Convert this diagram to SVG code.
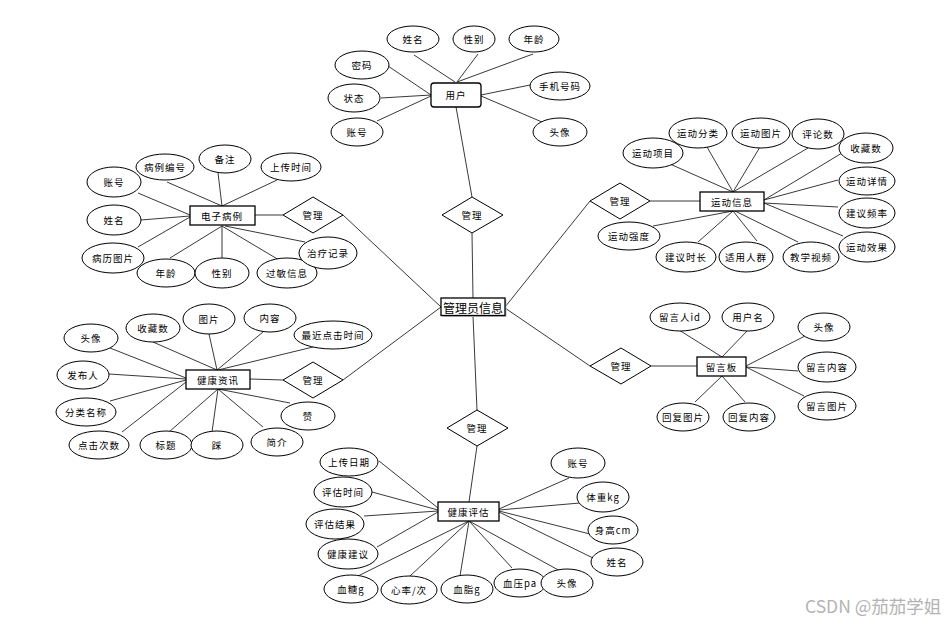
<svg xmlns="http://www.w3.org/2000/svg" width="945" height="624" viewBox="0 0 945 624">
<style>
.e{fill:#fff;stroke:#000;stroke-width:1}
.r{fill:#fff;stroke:#000;stroke-width:1.3}
.d{fill:#fff;stroke:#000;stroke-width:1}
.t{font-family:"Noto Sans CJK SC","Liberation Sans",sans-serif;font-size:9.5px;fill:#000;text-anchor:middle;dominant-baseline:central;letter-spacing:1px}
.big{font-size:12px;letter-spacing:0}
#c line{stroke:#222;stroke-width:0.9}
</style>
<rect width="945" height="624" fill="#fff"/>
<g id="c">
<line x1="414" y1="55" x2="455" y2="82"/><line x1="478" y1="54" x2="457" y2="82"/><line x1="533" y1="54" x2="457" y2="82"/>
<line x1="388" y1="66" x2="431" y2="95"/><line x1="381" y1="98" x2="431" y2="95"/><line x1="377" y1="121" x2="431" y2="96"/>
<line x1="530" y1="85" x2="481" y2="95"/><line x1="542" y1="122" x2="481" y2="96"/>
<line x1="456" y1="107" x2="472" y2="197"/>
<line x1="472" y1="233" x2="473" y2="298"/>
<line x1="343" y1="215" x2="441" y2="307"/><line x1="343" y1="380" x2="441" y2="307"/>
<line x1="505" y1="307" x2="590" y2="201"/><line x1="505" y1="308" x2="590" y2="366"/>
<line x1="473" y1="316" x2="477" y2="410"/><line x1="477" y1="446" x2="469" y2="502"/>
<line x1="255" y1="215" x2="283" y2="215"/><line x1="250" y1="379" x2="283" y2="380"/>
<line x1="650" y1="201" x2="700" y2="201"/><line x1="651" y1="366" x2="697" y2="366"/>
<line x1="138" y1="193" x2="190" y2="215"/><line x1="167" y1="182" x2="222" y2="206"/><line x1="218" y1="173" x2="222" y2="206"/><line x1="277" y1="180" x2="222" y2="206"/>
<line x1="141" y1="220" x2="190" y2="216"/><line x1="138" y1="247" x2="190" y2="217"/><line x1="170" y1="258" x2="222" y2="226"/>
<line x1="222" y1="226" x2="222" y2="259"/><line x1="222" y1="226" x2="279" y2="260"/><line x1="225" y1="226" x2="305" y2="242"/>
<line x1="110" y1="348" x2="186" y2="378"/><line x1="109" y1="374" x2="186" y2="379"/><line x1="110" y1="401" x2="186" y2="380"/><line x1="122" y1="432" x2="186" y2="382"/>
<line x1="153" y1="342" x2="217" y2="370"/><line x1="209" y1="334" x2="217" y2="370"/><line x1="263" y1="332" x2="217" y2="370"/><line x1="313" y1="347" x2="218" y2="370"/>
<line x1="290" y1="403" x2="218" y2="389"/><line x1="169" y1="432" x2="218" y2="389"/><line x1="212" y1="432" x2="218" y2="389"/><line x1="263" y1="427" x2="218" y2="389"/>
<line x1="670" y1="164" x2="733" y2="192"/><line x1="707" y1="147" x2="733" y2="192"/><line x1="760" y1="147" x2="733" y2="192"/><line x1="808" y1="148" x2="733" y2="192"/>
<line x1="842" y1="153" x2="764" y2="200"/><line x1="838" y1="180" x2="764" y2="200"/><line x1="838" y1="207" x2="764" y2="203"/><line x1="843" y1="236" x2="764" y2="203"/>
<line x1="653" y1="226" x2="733" y2="211"/><line x1="698" y1="242" x2="733" y2="211"/><line x1="757" y1="241" x2="733" y2="211"/><line x1="735" y1="211" x2="798" y2="242"/>
<line x1="679" y1="330" x2="722" y2="357"/><line x1="748" y1="330" x2="722" y2="357"/><line x1="805" y1="336" x2="746" y2="366"/><line x1="798" y1="371" x2="746" y2="367"/>
<line x1="804" y1="396" x2="746" y2="367"/><line x1="695" y1="402" x2="722" y2="376"/><line x1="745" y1="402" x2="722" y2="376"/>
<line x1="379" y1="461" x2="438" y2="508"/><line x1="372" y1="492" x2="438" y2="510"/><line x1="364" y1="516" x2="438" y2="511"/><line x1="377" y1="547" x2="438" y2="512"/>
<line x1="358" y1="576" x2="469" y2="521"/><line x1="410" y1="576" x2="469" y2="521"/><line x1="460" y1="576" x2="469" y2="521"/><line x1="512" y1="568" x2="469" y2="521"/><line x1="562" y1="572" x2="469" y2="521"/>
<line x1="569" y1="478" x2="499" y2="509"/><line x1="580" y1="503" x2="499" y2="510"/><line x1="590" y1="534" x2="499" y2="511"/><line x1="593" y1="558" x2="499" y2="512"/>
</g>

<g id="admin"><rect x="442.5" y="299.5" width="64" height="17.5" fill="#bbb"/><rect class="r" x="441" y="298" width="64" height="17.5"/><text class="t big" x="473" y="307">管理员信息</text></g>

<g id="user"><rect class="r" x="431" y="83" width="50" height="24" rx="3"/><text class="t" x="456" y="95">用户</text></g>
<g id="u-name"><ellipse class="e" cx="413" cy="39" rx="26" ry="13"/><text class="t" x="413" y="39">姓名</text></g>
<g id="u-sex"><ellipse class="e" cx="474" cy="39" rx="21" ry="13"/><text class="t" x="474" y="39">性别</text></g>
<g id="u-age"><ellipse class="e" cx="534" cy="39" rx="25" ry="13"/><text class="t" x="534" y="39">年龄</text></g>
<g id="u-pwd"><ellipse class="e" cx="362" cy="65" rx="27" ry="14"/><text class="t" x="362" y="65">密码</text></g>
<g id="u-state"><ellipse class="e" cx="354" cy="98" rx="26" ry="14"/><text class="t" x="354" y="98">状态</text></g>
<g id="u-acc"><ellipse class="e" cx="357" cy="132" rx="26" ry="14"/><text class="t" x="357" y="132">账号</text></g>
<g id="u-phone"><ellipse class="e" cx="560" cy="86" rx="30" ry="14"/><text class="t" x="560" y="86">手机号码</text></g>
<g id="u-avatar"><ellipse class="e" cx="560" cy="132" rx="27" ry="14"/><text class="t" x="560" y="132">头像</text></g>

<g id="dm-top"><polygon class="d" points="472,197 503,215 472,233 442,215"/><text class="t" x="472" y="215">管理</text></g>
<g id="dm-l1"><polygon class="d" points="313,197 343,215 313,233 283,215"/><text class="t" x="313" y="215">管理</text></g>
<g id="dm-l2"><polygon class="d" points="313,362 343,380 313,398 283,380"/><text class="t" x="313" y="380">管理</text></g>
<g id="dm-r1"><polygon class="d" points="620,183 650,201 620,219 590,201"/><text class="t" x="620" y="201">管理</text></g>
<g id="dm-r2"><polygon class="d" points="621,348 651,366 621,384 590,366"/><text class="t" x="621" y="366">管理</text></g>
<g id="dm-bot"><polygon class="d" points="477,410 508,428 477,446 447,428"/><text class="t" x="477" y="428">管理</text></g>

<g id="emr"><rect class="r" x="190" y="206" width="65" height="19"/><text class="t" x="222" y="215.5">电子病例</text></g>
<g id="emr-acc"><ellipse class="e" cx="114" cy="182" rx="27" ry="15"/><text class="t" x="114" y="182">账号</text></g>
<g id="emr-no"><ellipse class="e" cx="165" cy="167" rx="29" ry="13"/><text class="t" x="165" y="167">病例编号</text></g>
<g id="emr-note"><ellipse class="e" cx="225" cy="159" rx="26" ry="14"/><text class="t" x="225" y="159">备注</text></g>
<g id="emr-time"><ellipse class="e" cx="291" cy="167" rx="30" ry="14"/><text class="t" x="291" y="167">上传时间</text></g>
<g id="emr-name"><ellipse class="e" cx="114" cy="220" rx="27" ry="15"/><text class="t" x="114" y="220">姓名</text></g>
<g id="emr-pic"><ellipse class="e" cx="113" cy="258" rx="31" ry="15"/><text class="t" x="113" y="258">病历图片</text></g>
<g id="emr-age"><ellipse class="e" cx="166" cy="273" rx="29" ry="14"/><text class="t" x="166" y="273">年龄</text></g>
<g id="emr-sex"><ellipse class="e" cx="222" cy="273" rx="27" ry="15"/><text class="t" x="222" y="273">性别</text></g>
<g id="emr-allergy"><ellipse class="e" cx="287" cy="273" rx="30" ry="15"/><text class="t" x="287" y="273">过敏信息</text></g>
<g id="emr-treat"><ellipse class="e" cx="328" cy="253" rx="29" ry="16"/><text class="t" x="328" y="253">治疗记录</text></g>

<g id="news"><rect class="r" x="186" y="370" width="64" height="19"/><text class="t" x="218" y="379.5">健康资讯</text></g>
<g id="n-avatar"><ellipse class="e" cx="91" cy="338" rx="27" ry="14"/><text class="t" x="91" y="338">头像</text></g>
<g id="n-pub"><ellipse class="e" cx="83" cy="375" rx="26" ry="14"/><text class="t" x="83" y="375">发布人</text></g>
<g id="n-cat"><ellipse class="e" cx="86" cy="412" rx="30" ry="14"/><text class="t" x="86" y="412">分类名称</text></g>
<g id="n-clicks"><ellipse class="e" cx="99" cy="445" rx="30" ry="14"/><text class="t" x="99" y="445">点击次数</text></g>
<g id="n-fav"><ellipse class="e" cx="153" cy="328" rx="27" ry="14"/><text class="t" x="153" y="328">收藏数</text></g>
<g id="n-pic"><ellipse class="e" cx="209" cy="319" rx="26" ry="15"/><text class="t" x="209" y="319">图片</text></g>
<g id="n-content"><ellipse class="e" cx="270" cy="318" rx="26" ry="14"/><text class="t" x="270" y="318">内容</text></g>
<g id="n-recent"><ellipse class="e" cx="333" cy="335" rx="39" ry="14"/><text class="t" x="333" y="335">最近点击时间</text></g>
<g id="n-like"><ellipse class="e" cx="308" cy="416" rx="27" ry="14"/><text class="t" x="308" y="416">赞</text></g>
<g id="n-title"><ellipse class="e" cx="166" cy="445" rx="26" ry="14"/><text class="t" x="166" y="445">标题</text></g>
<g id="n-dislike"><ellipse class="e" cx="217" cy="445" rx="26" ry="14"/><text class="t" x="217" y="445">踩</text></g>
<g id="n-intro"><ellipse class="e" cx="277" cy="442" rx="26" ry="14"/><text class="t" x="277" y="442">简介</text></g>

<g id="sport"><rect class="r" x="700" y="192" width="64" height="19"/><text class="t" x="732" y="201.5">运动信息</text></g>
<g id="s-item"><ellipse class="e" cx="653" cy="153" rx="30" ry="15"/><text class="t" x="653" y="153">运动项目</text></g>
<g id="s-cat"><ellipse class="e" cx="698" cy="133" rx="29" ry="15"/><text class="t" x="698" y="133">运动分类</text></g>
<g id="s-pic"><ellipse class="e" cx="761" cy="133" rx="29" ry="15"/><text class="t" x="761" y="133">运动图片</text></g>
<g id="s-cmt"><ellipse class="e" cx="818" cy="134" rx="26" ry="15"/><text class="t" x="818" y="134">评论数</text></g>
<g id="s-fav"><ellipse class="e" cx="866" cy="148" rx="27" ry="15"/><text class="t" x="866" y="148">收藏数</text></g>
<g id="s-detail"><ellipse class="e" cx="867" cy="181" rx="28" ry="14"/><text class="t" x="867" y="181">运动详情</text></g>
<g id="s-freq"><ellipse class="e" cx="867" cy="213" rx="28" ry="15"/><text class="t" x="867" y="213">建议频率</text></g>
<g id="s-effect"><ellipse class="e" cx="867" cy="247" rx="28" ry="15"/><text class="t" x="867" y="247">运动效果</text></g>
<g id="s-int"><ellipse class="e" cx="629" cy="236" rx="31" ry="14"/><text class="t" x="629" y="236">运动强度</text></g>
<g id="s-dur"><ellipse class="e" cx="686" cy="257" rx="30" ry="15"/><text class="t" x="686" y="257">建议时长</text></g>
<g id="s-crowd"><ellipse class="e" cx="746" cy="257" rx="27" ry="15"/><text class="t" x="746" y="257">适用人群</text></g>
<g id="s-video"><ellipse class="e" cx="811" cy="257" rx="28" ry="15"/><text class="t" x="811" y="257">教学视频</text></g>

<g id="board"><rect class="r" x="697" y="357" width="49" height="19"/><text class="t" x="721.5" y="366.5">留言板</text></g>
<g id="b-uid"><ellipse class="e" cx="680" cy="317" rx="30" ry="14"/><text class="t" x="680" y="317">留言人id</text></g>
<g id="b-uname"><ellipse class="e" cx="748" cy="317" rx="26" ry="14"/><text class="t" x="748" y="317">用户名</text></g>
<g id="b-avatar"><ellipse class="e" cx="824" cy="327" rx="26" ry="14"/><text class="t" x="824" y="327">头像</text></g>
<g id="b-content"><ellipse class="e" cx="827" cy="367" rx="29" ry="15"/><text class="t" x="827" y="367">留言内容</text></g>
<g id="b-pic"><ellipse class="e" cx="827" cy="406" rx="29" ry="14"/><text class="t" x="827" y="406">留言图片</text></g>
<g id="b-rpic"><ellipse class="e" cx="683" cy="417" rx="26" ry="14"/><text class="t" x="683" y="417">回复图片</text></g>
<g id="b-rcontent"><ellipse class="e" cx="749" cy="417" rx="26" ry="14"/><text class="t" x="749" y="417">回复内容</text></g>

<g id="assess"><rect class="r" x="438" y="502" width="61" height="19"/><text class="t" x="468.5" y="511.5">健康评估</text></g>
<g id="a-date"><ellipse class="e" cx="349" cy="462" rx="29" ry="14"/><text class="t" x="349" y="462">上传日期</text></g>
<g id="a-time"><ellipse class="e" cx="343" cy="492" rx="29" ry="15"/><text class="t" x="343" y="492">评估时间</text></g>
<g id="a-result"><ellipse class="e" cx="335" cy="524" rx="29" ry="15"/><text class="t" x="335" y="524">评估结果</text></g>
<g id="a-advice"><ellipse class="e" cx="348" cy="554" rx="30" ry="15"/><text class="t" x="348" y="554">健康建议</text></g>
<g id="a-sugar"><ellipse class="e" cx="351" cy="589" rx="27" ry="14"/><text class="t" x="351" y="589">血糖g</text></g>
<g id="a-hr"><ellipse class="e" cx="409" cy="590" rx="28" ry="14"/><text class="t" x="409" y="590">心率/次</text></g>
<g id="a-lipid"><ellipse class="e" cx="467" cy="589" rx="26" ry="14"/><text class="t" x="467" y="589">血脂g</text></g>
<g id="a-bp"><ellipse class="e" cx="520" cy="583" rx="26" ry="14"/><text class="t" x="520" y="583">血压pa</text></g>
<g id="a-avatar"><ellipse class="e" cx="567" cy="583" rx="26" ry="14"/><text class="t" x="567" y="583">头像</text></g>
<g id="a-acc"><ellipse class="e" cx="578" cy="463" rx="27" ry="15"/><text class="t" x="578" y="463">账号</text></g>
<g id="a-weight"><ellipse class="e" cx="603" cy="497" rx="26" ry="15"/><text class="t" x="603" y="497">体重kg</text></g>
<g id="a-height"><ellipse class="e" cx="613" cy="530" rx="25" ry="14"/><text class="t" x="613" y="530">身高cm</text></g>
<g id="a-name"><ellipse class="e" cx="617" cy="562" rx="26" ry="14"/><text class="t" x="617" y="562">姓名</text></g>

<text x="805" y="613" font-family="'Noto Sans CJK SC','Liberation Sans',sans-serif" font-size="17.5" fill="#b3b3b3">CSDN @茄茄学姐</text>
</svg>
